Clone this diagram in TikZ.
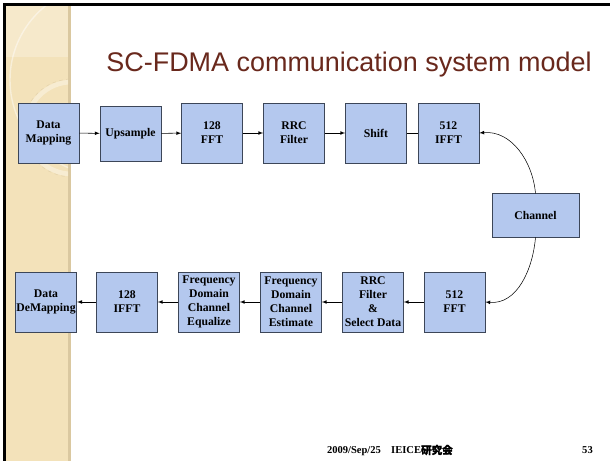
\documentclass[tikz,border=0pt]{standalone}
\usepackage{fontspec}
\setmainfont{Liberation Serif}
\newfontfamily\titlefont{Liberation Sans}
\newfontfamily\cjk[FakeBold=2]{Noto Sans CJK JP}
\definecolor{blkfill}{RGB}{180,200,238}
\definecolor{blkline}{RGB}{60,70,88}
\definecolor{titlered}{RGB}{105,40,28}
\definecolor{strip}{RGB}{243,226,186}
\definecolor{stripedge}{RGB}{218,200,160}
\begin{document}
\begin{tikzpicture}[x=0.03cm,y=-0.03cm,
    blk/.style={draw=blkline,fill=blkfill,line width=0.6pt,inner sep=1pt,
      minimum width=52pt,minimum height=51pt,align=center,
      font=\fontsize{10}{12}\selectfont\bfseries},
    arr/.style={-latex,line width=0.45pt},
    foot/.style={anchor=base,font=\fontsize{9}{10}\selectfont\bfseries}]
    \useasboundingbox (0,0) rectangle (610,461);
    \fill[white] (0,0) rectangle (610,461);
    % left strip
    \fill[strip] (6,6) rectangle (70,461);
    \fill[stripedge] (68,6) rectangle (71,461);
    \begin{scope}
      \clip (6,6) rectangle (68,461);
      \fill[white,opacity=.25] (6,6) rectangle (68,57);
      \draw[white,opacity=.45,line width=1.2pt] (105,80) circle (95);
      \draw[white,opacity=.35,line width=4pt] (72,128) circle (46);
      \draw[stripedge,dashed,opacity=.6] (72,128) circle (49);
    \end{scope}
    \draw[line width=2.6pt] (4.5,461) -- (4.5,4.5) -- (610,4.5);
    % title
    \node[anchor=base,text=titlered,font=\fontsize{23}{26}\titlefont] (title) at (349,72) {SC-FDMA communication system model};
    % transmitter
    \node[blk] (map) at (48.5,133) {Data\\Mapping};
    \node[blk,minimum height=47pt] (ups) at (130.5,133.5) {Upsample};
    \node[blk] (fftA) at (212,133) {128\\FFT};
    \node[blk] (rrcA) at (294,133) {RRC\\Filter};
    \node[blk] (shift) at (376,133) {Shift};
    \node[blk] (ifftB) at (448.5,133) {512\\IFFT};
    \node[blk,minimum width=74pt,minimum height=37pt] (chan) at (535.5,215.5) {Channel};
    % receiver
    \node[blk] (fftB) at (454.5,302) {512\\FFT};
    \node[blk] (rrcB) at (373,302) {RRC\\Filter\\\&\\Select Data};
    \node[blk] (est) at (291,302) {Frequency\\Domain\\Channel\\Estimate};
    \node[blk] (equ) at (209,302) {Frequency\\Domain\\Channel\\Equalize};
    \node[blk] (ifftA) at (127,302) {128\\IFFT};
    \node[blk] (demap) at (46,302) {Data\\DeMapping};
    \draw[arr] (map) -- (ups);
    \draw[arr] (ups) -- (fftA);
    \draw[arr] (fftA) -- (rrcA);
    \draw[arr] (rrcA) -- (shift);
    \draw[line width=0.45pt] (shift) -- (ifftB);
    \draw[arr] (chan.north) to[out=95,in=5] (ifftB.east);
    \draw[arr] (chan.south) to[out=-95,in=-5] (fftB.east);
    \draw[arr] (fftB) -- (rrcB);
    \draw[arr] (rrcB) -- (est);
    \draw[arr] (est) -- (equ);
    \draw[arr] (equ) -- (ifftA);
    \draw[arr] (ifftA) -- (demap);
    % footer
    \node[foot] (date) at (354,454) {2009/Sep/25};
    \node[foot] (conf) at (422,454) {IEICE{\cjk 研究会}};
    \node[foot] (page) at (587.5,454) {53};
\end{tikzpicture}
\end{document}
